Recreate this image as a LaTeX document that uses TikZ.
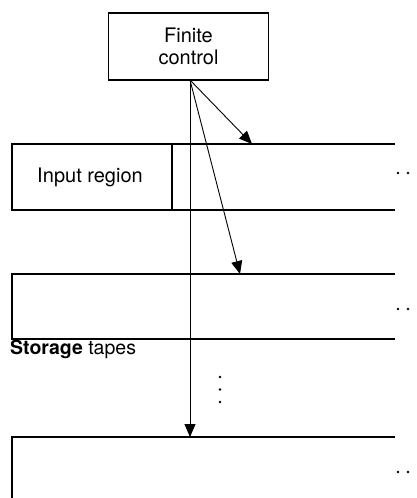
\documentclass[tikz,border=0pt]{standalone}
\usepackage{fontspec}
\setmainfont{TeX Gyre Heros}
\usetikzlibrary{arrows.meta}
\tikzset{
  tape/.style={line width=1.1pt},
  head/.style={line width=0.9pt, -{Triangle[length=13pt,width=11pt]}},
  tapedot/.style={fill=black, draw=none, circle, inner sep=0pt, minimum size=2.8pt},
  lbl/.style={font=\fontsize{20}{22}\selectfont, inner sep=0pt}
}
\begin{document}
\begin{tikzpicture}[x=1pt,y=-1pt]
\useasboundingbox (0,0) rectangle (417,498);

% finite control
\node[draw, line width=1.1pt, minimum width=160pt, minimum height=67pt, align=center, lbl]
  (fc) at (188.5,46.5) {Finite\\control};
\coordinate (src) at (190,80);

% input tape with its input region
\draw[tape] (395,144) -- (12,144) -- (12,210) -- (395,210);
\draw[tape] (172,144) -- (172,210);
\node[lbl] (inlbl) at (90,177) {Input region};
\node[tapedot] (d1a) at (398,173) {};
\node[tapedot] (d1b) at (408,173) {};
\coordinate (t1) at (252,144);

% first storage tape
\draw[tape] (395,274) -- (12,274) -- (12,339) -- (395,339);
\node[tapedot] (d2a) at (398,309) {};
\node[tapedot] (d2b) at (408,309) {};
\coordinate (t2) at (240,274);
\node[lbl, anchor=west, font=\fontsize{19.5}{22}\selectfont] (stlbl) at (10,349) {\textbf{Storage} tapes};

% further storage tapes
\node[tapedot, minimum size=2.6pt] (v1) at (220,377) {};
\node[tapedot, minimum size=2.6pt] (v2) at (220,389.5) {};
\node[tapedot, minimum size=2.6pt] (v3) at (220,402) {};

% last storage tape
\draw[tape] (395,437) -- (12,437) -- (12,500);
\node[tapedot] (d3a) at (398,472) {};
\node[tapedot] (d3b) at (408,472) {};
\coordinate (t3) at (190,437);

% heads
\draw[head] (src) -- (t1);
\draw[head] (src) -- (t2);
\draw[head] (src) -- (t3);
\end{tikzpicture}
\end{document}
